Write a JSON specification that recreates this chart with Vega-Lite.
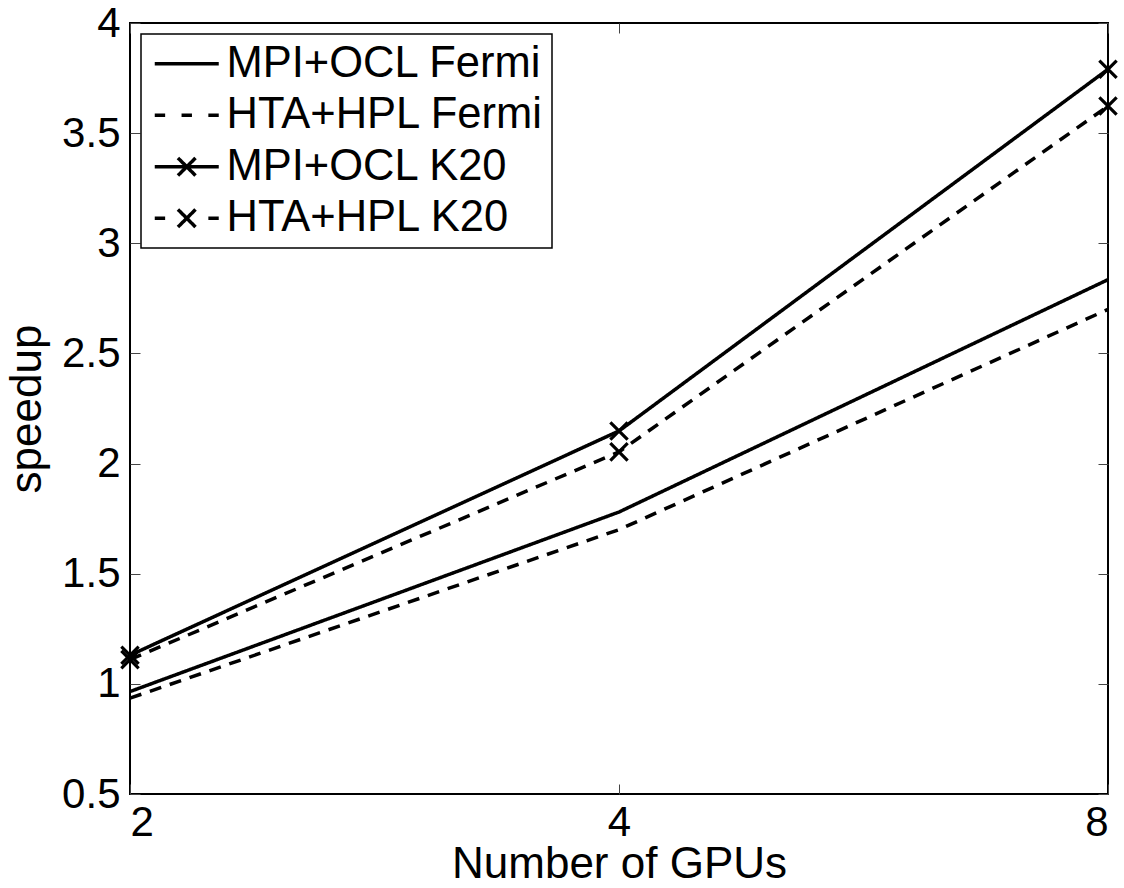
{
  "$schema": "https://vega.github.io/schema/vega-lite/v6.json",
  "autosize": "none",
  "width": 978,
  "height": 771,
  "padding": {"left": 130, "top": 23, "right": 16, "bottom": 94},
  "background": "white",
  "config": {
    "font": "Liberation Sans",
    "view": {"stroke": "black", "strokeWidth": 2},
    "axis": {"grid": false, "domain": false, "tickColor": "#444", "tickWidth": 1, "tickSize": -10, "labelColor": "black", "titleColor": "black", "labelFontSize": 42, "titleFontSize": 44, "titleFontWeight": "normal", "labelOverlap": false, "labelBound": false}
  },
  "data": {"values": [
    {"series": "MPI+OCL Fermi", "style": "solid", "gpus": 2, "speedup": 0.965},
    {"series": "MPI+OCL Fermi", "style": "solid", "gpus": 4, "speedup": 1.78},
    {"series": "MPI+OCL Fermi", "style": "solid", "gpus": 8, "speedup": 2.835},
    {"series": "HTA+HPL Fermi", "style": "dashed", "gpus": 2, "speedup": 0.935},
    {"series": "HTA+HPL Fermi", "style": "dashed", "gpus": 4, "speedup": 1.70},
    {"series": "HTA+HPL Fermi", "style": "dashed", "gpus": 8, "speedup": 2.70},
    {"series": "MPI+OCL K20", "style": "solid", "gpus": 2, "speedup": 1.13},
    {"series": "MPI+OCL K20", "style": "solid", "gpus": 4, "speedup": 2.148},
    {"series": "MPI+OCL K20", "style": "solid", "gpus": 8, "speedup": 3.79},
    {"series": "HTA+HPL K20", "style": "dashed", "gpus": 2, "speedup": 1.11},
    {"series": "HTA+HPL K20", "style": "dashed", "gpus": 4, "speedup": 2.053},
    {"series": "HTA+HPL K20", "style": "dashed", "gpus": 8, "speedup": 3.623}
  ]},
  "layer": [
    {
      "mark": {"type": "line", "strokeWidth": 3.5, "clip": false},
      "encoding": {
        "x": {"field": "gpus", "type": "quantitative", "scale": {"type": "log", "base": 2, "domain": [2, 8], "nice": false},
              "axis": {"orient": "bottom", "values": [2, 4, 8], "format": "d", "title": "Number of GPUs", "labelPadding": 18, "titlePadding": -1}},
        "y": {"field": "speedup", "type": "quantitative", "scale": {"domain": [0.5, 4], "nice": false, "zero": false},
              "axis": {"orient": "left", "values": [0.5, 1, 1.5, 2, 2.5, 3, 3.5, 4], "format": "~g", "title": "speedup", "labelPadding": 20, "titlePadding": 12}},
        "detail": {"field": "series"},
        "strokeDash": {"field": "style", "type": "nominal",
          "scale": {"domain": ["solid", "dashed"], "range": [[1, 0], [12, 9]]}, "legend": null},
        "color": {"field": "series", "type": "nominal",
          "scale": {"domain": ["MPI+OCL Fermi", "HTA+HPL Fermi", "MPI+OCL K20", "HTA+HPL K20"], "range": ["black", "black", "black", "black"]},
          "legend": {
            "title": null, "orient": "top-left", "offset": 11,
            "fillColor": "white", "strokeColor": "black",
            "padding": 8, "rowPadding": 6.5,
            "labelFontSize": 43.5, "labelColor": "black", "labelLimit": 0,
            "symbolSize": 256, "symbolStrokeWidth": 3.5, "symbolStrokeColor": "black", "symbolDash": [1, 0], "symbolOffset": 16, "labelOffset": 18,
            "encode": {
              "legend": {"update": {"strokeWidth": {"value": 1.5}}},
              "symbols": {"update": {
                "shape": {"signal": "datum.value === 'MPI+OCL Fermi' ? 'M-4,0L4,0' : datum.value === 'HTA+HPL Fermi' ? 'M-4,0L-2.7,0M-0.65,0L0.65,0M2.7,0L4,0' : datum.value === 'MPI+OCL K20' ? 'M-4,0L4,0M-1.1,-1.1L1.1,1.1M-1.1,1.1L1.1,-1.1' : 'M-4,0L-2.7,0M2.7,0L4,0M-1.1,-1.1L1.1,1.1M-1.1,1.1L1.1,-1.1'"}
              }}
            }
          }}
      }
    },
    {
      "transform": [{"filter": {"field": "series", "oneOf": ["MPI+OCL K20", "HTA+HPL K20"]}}],
      "mark": {"type": "point", "shape": "M-0.87,-1.13L1.13,0.87L0.87,1.13L-1.13,-0.87ZM0.87,-1.13L1.13,-0.87L-0.87,1.13L-1.13,0.87Z", "size": 300, "filled": true, "color": "black", "strokeWidth": 0, "opacity": 1, "clip": false},
      "encoding": {
        "x": {"field": "gpus", "type": "quantitative", "axis": {"orient": "top", "values": [2, 4, 8], "labels": false, "title": null}},
        "y": {"field": "speedup", "type": "quantitative", "axis": {"orient": "right", "values": [0.5, 1, 1.5, 2, 2.5, 3, 3.5, 4], "labels": false, "title": null}}
      }
    }
  ],
  "resolve": {"axis": {"x": "independent", "y": "independent"}}
}
